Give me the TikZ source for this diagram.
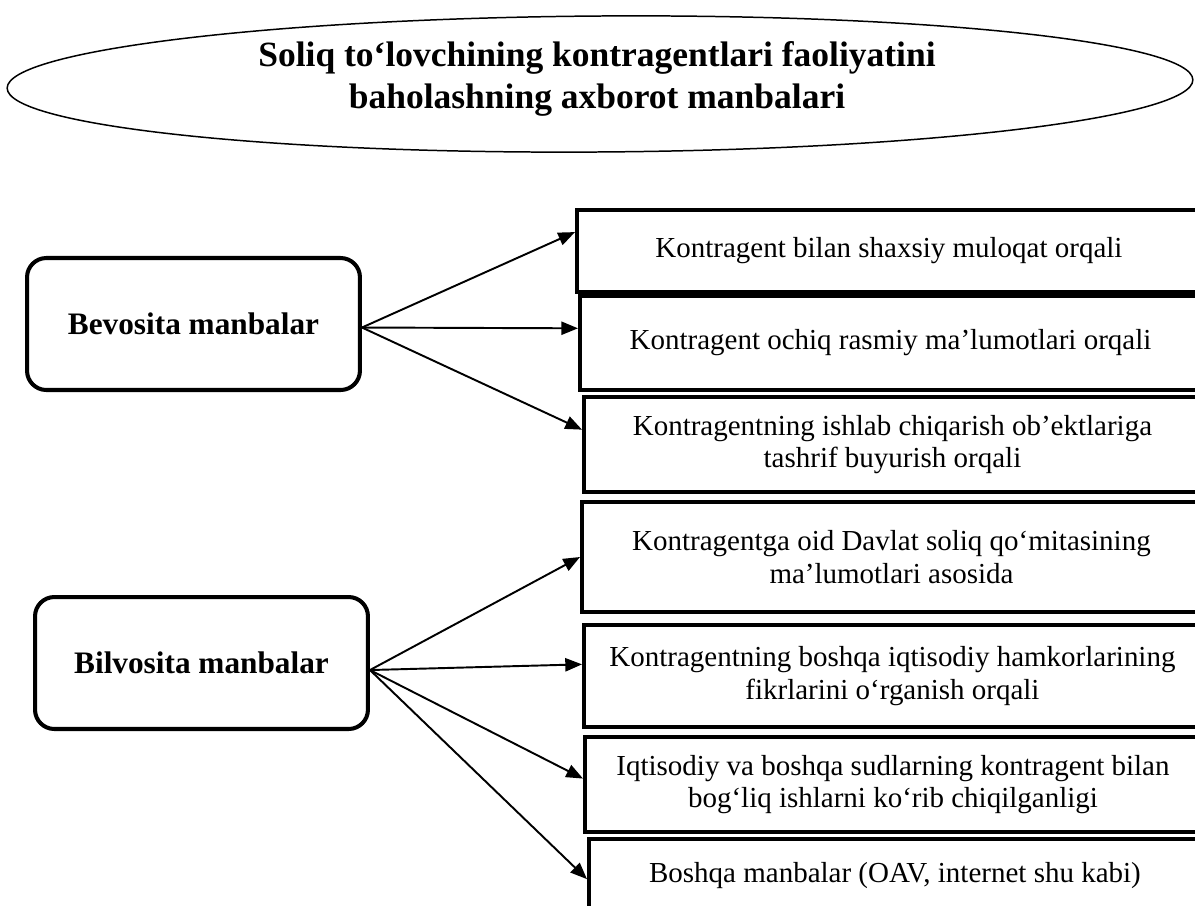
\documentclass[tikz,border=0pt]{standalone}
\usepackage{fontspec}
\setmainfont{Liberation Serif}
\usetikzlibrary{arrows.meta,calc}

\begin{document}
\begin{tikzpicture}[x=0.02cm,y=-0.02cm,
	srcbox/.style={draw,line width=2.3pt,rounded corners=11pt,anchor=north west,
		minimum width=6.66cm,minimum height=2.64cm,font=\fontsize{17.8}{21}\selectfont\bfseries},
	waybox/.style={draw,line width=2.3pt,anchor=north west,align=center,
		font=\fontsize{16.5}{18.3}\selectfont},
	conn/.style={line width=1.1pt,-{Triangle[length=9.5pt,width=7.5pt]}}]
	\useasboundingbox (0,0) rectangle (1195,905);
	\clip (0,0) rectangle (1195,905);

	% title
	\draw[line width=0.85pt,rotate around={0.4:(600,84)}] (600,84) ellipse (11.86cm and 1.36cm);
	\node[align=center,font=\fontsize{20.2}{24}\selectfont\bfseries] (title) at (597,79)
		{Soliq to‘lovchining kontragentlari faoliyatini\\ baholashning axborot manbalari};

	% sources
	\node[srcbox] (bev) at (25,256) {Bevosita manbalar};
	\node[srcbox] (bil) at (33,595) {Bilvosita manbalar};

	% ways
	\node[waybox,minimum width=12.48cm,minimum height=1.64cm] (r1) at (575,208)
		{Kontragent bilan shaxsiy muloqat orqali};
	\node[waybox,minimum width=12.42cm,minimum height=1.88cm] (r2) at (578,294)
		{Kontragent ochiq rasmiy ma’lumotlari orqali};
	\node[waybox,minimum width=12.34cm,minimum height=1.90cm] (r3) at (582,395)
		{Kontragentning ishlab chiqarish ob’ektlariga\\ tashrif buyurish orqali};
	\node[waybox,minimum width=12.38cm,minimum height=2.20cm] (r4) at (580,500)
		{Kontragentga oid Davlat soliq qo‘mitasining\\ ma’lumotlari asosida};
	\node[waybox,minimum width=12.34cm,minimum height=2.04cm] (r5) at (582,623)
		{Kontragentning boshqa iqtisodiy hamkorlarining\\ fikrlarini o‘rganish orqali};
	\node[waybox,minimum width=12.32cm,minimum height=1.90cm] (r6) at (583,735)
		{Iqtisodiy va boshqa sudlarning kontragent bilan\\ bog‘liq ishlarni ko‘rib chiqilganligi};
	\node[waybox,minimum width=12.24cm,minimum height=1.48cm] (r7) at (587,837)
		{Boshqa manbalar (OAV, internet shu kabi)};

	% arrows
	\draw[conn] ([yshift=-2pt]bev.east) -- ($(r1.north west)!0.28!(r1.south west)$);
	\draw[conn] ([yshift=-2pt]bev.east) -- ($(r2.north west)!0.35!(r2.south west)$);
	\draw[conn] ([yshift=-2pt]bev.east) -- ($(r3.north west)!0.35!(r3.south west)$);
	\draw[conn] ([yshift=-4pt]bil.east) -- ($(r4.north west)!0.5!(r4.south west)$);
	\draw[conn] ([yshift=-4pt]bil.east) -- ($(r5.north west)!0.39!(r5.south west)$);
	\draw[conn] ([yshift=-4pt]bil.east) -- ($(r6.north west)!0.44!(r6.south west)$);
	\draw[conn] ([yshift=-4pt]bil.east) -- ($(r7.north west)!0.54!(r7.south west)$);

\end{tikzpicture}
\end{document}
